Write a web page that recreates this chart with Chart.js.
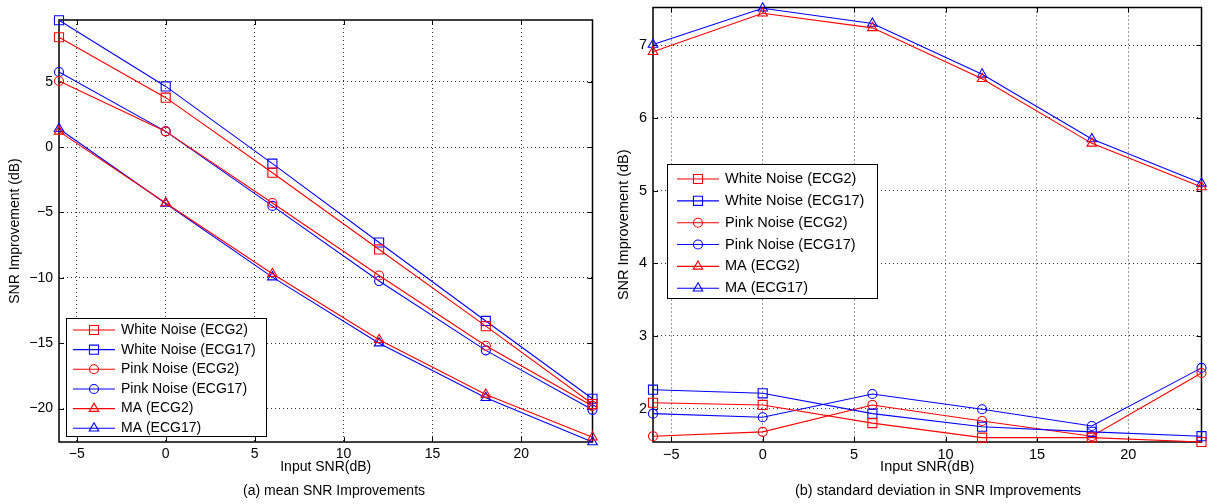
<!DOCTYPE html>
<html>
<head>
<meta charset="utf-8">
<script src="https://cdn.jsdelivr.net/npm/chart.js@4.4.1/dist/chart.umd.min.js"></script>
<style>
    html, body { margin: 0; padding: 0; background: #fff; }
    body { width: 1209px; height: 504px; position: relative; overflow: hidden; font-family: 'Liberation Sans', Arial, sans-serif; }
    #wrapA { position: absolute; left: 0; top: 0; width: 600px; height: 504px; }
    #wrapB { position: absolute; left: 600px; top: 0; width: 609px; height: 504px; }
    .caption { position: absolute; white-space: nowrap; transform: translateX(-50%); color: #000; line-height: 18px; }
</style>
</head>
<body>
<div id="wrapA"><canvas id="meanChart" width="600" height="504"></canvas></div>
<div id="wrapB"><canvas id="stdChart" width="609" height="504"></canvas></div>
<div class="caption" style="left:334px; top:481px; font-size:14px;">(a) mean SNR Improvements</div>
<div class="caption" style="left:938px; top:481px; font-size:14.5px;">(b) standard deviation in SNR Improvements</div>

<script>
// input SNR levels (dB)
const inputSnr = [-6, 0, 6, 12, 18, 24];
const seriesNames = ['White Noise (ECG2)', 'White Noise (ECG17)', 'Pink Noise (ECG2)',
                     'Pink Noise (ECG17)', 'MA (ECG2)', 'MA (ECG17)'];

// (a) mean SNR improvement
const meanWhiteEcg2  = [8.4, 3.78, -1.96, -7.83, -13.7, -19.65];
const meanWhiteEcg17 = [9.7, 4.64, -1.27, -7.3, -13.3, -19.25];
const meanPinkEcg2   = [5.05, 1.2, -4.28, -9.82, -15.2, -19.8];
const meanPinkEcg17  = [5.74, 1.2, -4.5, -10.25, -15.55, -20.1];
const meanMaEcg2     = [1.2, -4.28, -9.69, -14.74, -18.92, -22.2];
const meanMaEcg17    = [1.4, -4.32, -9.95, -15.0, -19.18, -22.56];

// (b) standard deviation of SNR improvement
const stdWhiteEcg2  = [2.08, 2.05, 1.80, 1.60, 1.60, 1.54];
const stdWhiteEcg17 = [2.26, 2.21, 1.93, 1.75, 1.68, 1.62];
const stdPinkEcg2   = [1.62, 1.68, 2.05, 1.83, 1.62, 2.49];
const stdPinkEcg17  = [1.93, 1.88, 2.20, 1.99, 1.76, 2.56];
const stdMaEcg2     = [6.91, 7.44, 7.24, 6.54, 5.65, 5.05];
const stdMaEcg17    = [7.01, 7.51, 7.30, 6.60, 5.71, 5.10];

// axis ticks and limits
const snrTicks  = [-5, 0, 5, 10, 15, 20];
const snrRange  = [-6, 24];
const meanTicks = [-20, -15, -10, -5, 0, 5];
const meanRange = [-22.56, 9.72];
const stdTicks  = [2, 3, 4, 5, 6, 7];
const stdRange  = [1.54, 7.52];

const RED = '#ff0000';
const BLUE = '#0000ff';
const FONT = "'Liberation Sans', Arial, Helvetica, sans-serif";
const seriesColors = [RED, BLUE, RED, BLUE, RED, BLUE];
const seriesShapes = ['rect', 'rect', 'circle', 'circle', 'triangle', 'triangle'];
const shapeRadius = { rect: 6.4, circle: 4.5, triangle: 5.5 };

function makeDatasets(seriesList) {
    return seriesList.map((values, i) => ({
        label: seriesNames[i],
        data: values.map((v, k) => ({ x: inputSnr[k], y: v })),
        borderColor: seriesColors[i],
        borderWidth: 1.1,
        pointStyle: seriesShapes[i],
        pointRadius: shapeRadius[seriesShapes[i]],
        pointHoverRadius: shapeRadius[seriesShapes[i]],
        pointBorderWidth: 1.1,
        pointBorderColor: seriesColors[i],
        pointBackgroundColor: 'rgba(0,0,0,0)',
        tension: 0,
        clip: false
    }));
}

function minusSign(v) {
    return String(v).replace('-', '\u2212');
}

function drawMarker(ctx, style, x, y, r) {
    ctx.beginPath();
    if (style === 'rect') {
        const s = r * Math.SQRT1_2;
        ctx.rect(x - s, y - s, 2 * s, 2 * s);
    } else if (style === 'circle') {
        ctx.arc(x, y, r, 0, Math.PI * 2);
    } else {
        for (let k = 0; k < 3; k++) {
            const a = k * 2 * Math.PI / 3;
            const px = x + Math.sin(a) * r, py = y - Math.cos(a) * r;
            if (k === 0) ctx.moveTo(px, py); else ctx.lineTo(px, py);
        }
        ctx.closePath();
    }
    ctx.stroke();
}

// matlab style box: frame, inward ticks on all sides, legend
const matlabBox = {
    id: 'matlabBox',
    beforeDatasetsDraw(chart) {
        const ctx = chart.ctx, a = chart.chartArea;
        const xs = chart.scales.x, ys = chart.scales.y;
        ctx.save();
        ctx.strokeStyle = '#000';
        ctx.lineWidth = 1;
        ctx.beginPath();
        xs.ticks.forEach(t => {
            const px = Math.round(xs.getPixelForValue(t.value)) + 0.5;
            ctx.moveTo(px, a.bottom); ctx.lineTo(px, a.bottom - 5);
            ctx.moveTo(px, a.top); ctx.lineTo(px, a.top + 5);
        });
        ys.ticks.forEach(t => {
            const py = Math.round(ys.getPixelForValue(t.value)) + 0.5;
            ctx.moveTo(a.left, py); ctx.lineTo(a.left + 5, py);
            ctx.moveTo(a.right, py); ctx.lineTo(a.right - 5, py);
        });
        ctx.stroke();
        ctx.lineWidth = 1.5;
        ctx.strokeRect(a.left, a.top, a.right - a.left, a.bottom - a.top);
        ctx.restore();
    },
    afterDraw(chart, args, opts) {
        const ctx = chart.ctx;
        ctx.save();
        ctx.fillStyle = '#fff';
        ctx.fillRect(opts.left, opts.top, opts.width, opts.height);
        ctx.strokeStyle = '#000';
        ctx.lineWidth = 1;
        ctx.strokeRect(opts.left + 0.5, opts.top + 0.5, opts.width, opts.height);
        ctx.font = opts.fontSize + 'px ' + FONT;
        ctx.textBaseline = 'middle';
        ctx.textAlign = 'left';
        chart.data.datasets.forEach((ds, i) => {
            const y = opts.firstY + i * opts.rowH;
            ctx.strokeStyle = ds.borderColor;
            ctx.lineWidth = 1.1;
            ctx.beginPath();
            ctx.moveTo(opts.lineX0, y); ctx.lineTo(opts.lineX1, y);
            ctx.stroke();
            drawMarker(ctx, ds.pointStyle, (opts.lineX0 + opts.lineX1) / 2, y, ds.pointRadius);
            ctx.fillStyle = '#000';
            ctx.fillText(ds.label, opts.textX, y);
        });
        ctx.restore();
    }
};

function makeChart(canvasId, seriesList, yTicks, yRange, sizes) {
    const ctx = document.getElementById(canvasId).getContext('2d');
    return new Chart(ctx, {
        type: 'line',
        data: { datasets: makeDatasets(seriesList) },
        plugins: [matlabBox],
        options: {
            responsive: false,
            animation: false,
            devicePixelRatio: 1,
            layout: { padding: { top: sizes.top, right: sizes.right, bottom: 0, left: 0 } },
            plugins: {
                legend: { display: false },
                tooltip: { enabled: false },
                matlabBox: sizes.legend
            },
            scales: {
                x: {
                    type: 'linear',
                    min: snrRange[0],
                    max: snrRange[1],
                    afterBuildTicks: s => { s.ticks = snrTicks.map(v => ({ value: v })); },
                    afterFit: s => { s.height = 504 - 442; s.paddingLeft = 0; s.paddingRight = 0; },
                    grid: { color: 'rgba(0,0,0,0.8)', drawTicks: false },
                    border: { display: false, dash: [1, 3] },
                    ticks: {
                        padding: 4,
                        color: '#000',
                        font: { family: FONT, size: sizes.fontSize },
                        callback: v => minusSign(v)
                    },
                    title: {
                        display: true,
                        text: 'Input SNR(dB)',
                        color: '#000',
                        font: { family: FONT, size: sizes.fontSize },
                        padding: { top: 0, bottom: sizes.xTitlePad }
                    }
                },
                y: {
                    type: 'linear',
                    min: yRange[0],
                    max: yRange[1],
                    afterBuildTicks: s => { s.ticks = yTicks.map(v => ({ value: v })); },
                    afterFit: s => { s.width = sizes.yWidth; s.paddingTop = 0; s.paddingBottom = 0; },
                    grid: { color: 'rgba(0,0,0,0.8)', drawTicks: false },
                    border: { display: false, dash: [1, 3] },
                    ticks: {
                        padding: 6,
                        color: '#000',
                        font: { family: FONT, size: sizes.fontSize },
                        callback: v => minusSign(v)
                    },
                    title: {
                        display: true,
                        text: 'SNR Improvement (dB)',
                        color: '#000',
                        font: { family: FONT, size: sizes.fontSize },
                        padding: { top: sizes.yTitlePad, bottom: 0 }
                    }
                }
            }
        }
    });
}

makeChart('meanChart',
    [meanWhiteEcg2, meanWhiteEcg17, meanPinkEcg2, meanPinkEcg17, meanMaEcg2, meanMaEcg17],
    meanTicks, meanRange,
    {
        top: 20, right: 4, yWidth: 59, fontSize: 14, xTitlePad: 28.6, yTitlePad: 6.6,
        legend: { left: 66, top: 318, width: 200, height: 118, firstY: 330, rowH: 19.65,
                  lineX0: 73, lineX1: 115, textX: 121, fontSize: 14 }
    });

makeChart('stdChart',
    [stdWhiteEcg2, stdWhiteEcg17, stdPinkEcg2, stdPinkEcg17, stdMaEcg2, stdMaEcg17],
    stdTicks, stdRange,
    {
        top: 7, right: 4, yWidth: 53, fontSize: 14.5, xTitlePad: 28.3, yTitlePad: 15.3,
        legend: { left: 67, top: 164, width: 210, height: 134, firstY: 179, rowH: 21.85,
                  lineX0: 77, lineX1: 119, textX: 125, fontSize: 14.5 }
    });
</script>
</body>
</html>
